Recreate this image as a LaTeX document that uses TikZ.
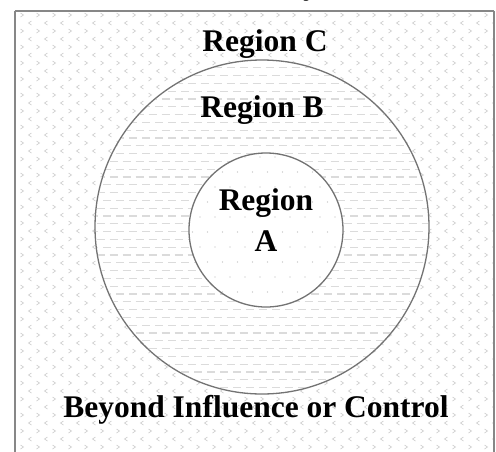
\documentclass[tikz,border=0pt]{standalone}
\usepackage{fontspec}
\setmainfont{Liberation Serif}
\begin{document}
\begin{tikzpicture}[x=1pt,y=-1pt,
  frameline/.style={draw=black!47,line width=2pt},
  ringline/.style={draw=black!55,line width=1.3pt},
  chev/.style={draw=black!20,line width=0.6pt},
  dashrow/.style={draw=black!14,line width=1.3pt,dash pattern=on 8pt off 5pt},
  dotmark/.style={fill=black!28},
  label/.style={font=\fontsize{31.5}{41}\selectfont\bfseries,text=black,inner sep=0pt,align=center}]
\useasboundingbox (0,0) rectangle (496,451);
\fill[white] (0,0) rectangle (496,451);

% outer zone: chevron texture inside the frame
\begin{scope}
  \clip (16,12) rectangle (493,451);
  \foreach \r in {0,...,27}{
    \foreach \c in {0,...,29}{
      \draw[chev] ({20.5+16*\c},{13+16*\r}) -- ({23.5+16*\c},{15+16*\r}) -- ({20.5+16*\c},{17+16*\r});
      \draw[chev] ({31.5+16*\c},{21+16*\r}) -- ({28.5+16*\c},{23+16*\r}) -- ({31.5+16*\c},{25+16*\r});
    }
  }
\end{scope}

% frame
\draw[frameline] (15,11) -- (494,11);
\draw[frameline] (15,11) -- (15,460);
\draw[frameline] (494,11) -- (494,460);

% middle ring with dashed texture
\node[circle,minimum size=334pt,inner sep=0pt,fill=white] (ringB) at (262,227) {};
\begin{scope}
  \clip (262,227) circle (166pt);
  \foreach \r in {0,...,43}{
    \pgfmathsetmacro\ph{mod(\r,2)*6.5}
    \draw[dashrow,dash phase=\ph pt] (90,{60+7.8*\r}) -- (440,{60+7.8*\r});
  }
\end{scope}
\draw[ringline] (ringB.center) circle (167pt);

% inner disc with dotted texture
\node[circle,minimum size=154pt,inner sep=0pt,fill=white] (ringA) at (266,230) {};
\begin{scope}
  \clip (266,230) circle (76pt);
  \foreach \r in {0,...,11}{
    \foreach \c in {0,...,12}{
      \fill[dotmark] ({185+15*\c+mod(\r,2)*7.5},{157+15*\r}) circle (0.6pt);
    }
  }
\end{scope}
\draw[ringline] (ringA.center) circle (77pt);

% labels
\node[label] (title) at (311,-9) {y};
\node[label] (lblC) at (265,44) {Region C};
\node[label] (lblB) at (262,110) {Region B};
\node[label] (lblA) at (266,220) {Region\\A};
\node[label] (lblOut) at (256,410) {Beyond Influence or Control};
\end{tikzpicture}
\end{document}
